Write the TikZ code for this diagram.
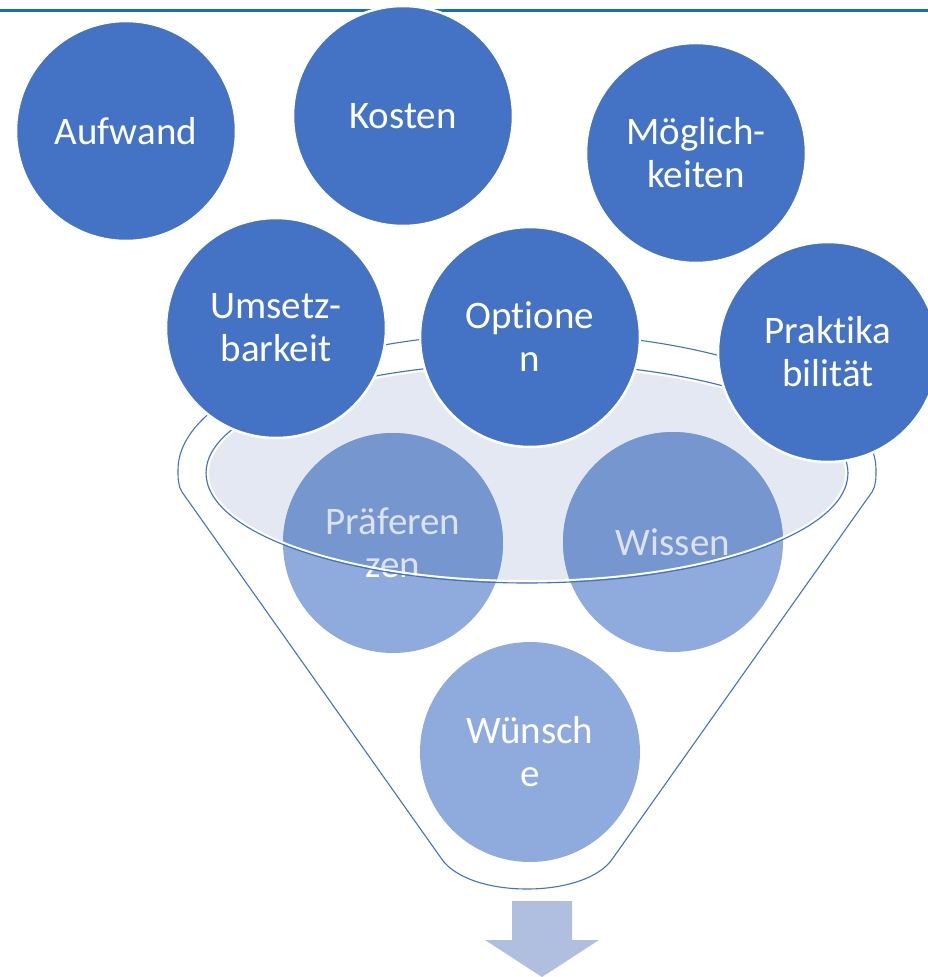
\documentclass[tikz,border=0pt]{standalone}
\usepackage{fontspec}
\setmainfont{Carlito}[Ligatures=NoCommon]
\definecolor{dk}{HTML}{4472C4}
\definecolor{lowout}{HTML}{8FAADC}
\definecolor{lowincol}{HTML}{7596CF}
\definecolor{txtin}{HTML}{DCE2F0}
\definecolor{ellfill}{HTML}{E4E8F3}
\definecolor{topline}{HTML}{1570BC}
\definecolor{arrowcol}{HTML}{B0BEE0}
\begin{document}
\begin{tikzpicture}[x=1pt,y=-1pt,
  bigc/.style={circle, minimum size=220pt, inner sep=0pt, align=center, text=white,
    font=\fontsize{39}{43}\selectfont},
  upc/.style={bigc, fill=dk, draw=white, line width=2.5pt},
  lowc/.style={bigc, fill=lowout},
  lowinc/.style={bigc, fill=lowincol, text=txtin},
  funnelline/.style={draw=dk, line width=1.1pt}]
\useasboundingbox (0,0) rectangle (928,977);

% top rule
\coordinate (tl) at (0,10.5);
\coordinate (tr) at (928,10.5);
\draw[topline, line width=3pt] (tl) -- (tr);

% top row circles
\node[upc] (aufwand) at (126,131) {Aufwand};
\node[upc] (kosten) at (403,116) {Kosten};
\node[upc] (moegl) at (696,153) {Möglich-\\keiten};

% outer funnel
\path[funnelline, fill=white] (178,470) arc[start angle=180, end angle=0, x radius=349pt, y radius=137pt]
  .. controls (876,478) and (876,486) .. (872,492)
  -- (613,858)
  .. controls (600,878) and (565,889) .. (527,889)
  .. controls (489,889) and (454,878) .. (441,858)
  -- (182,492)
  .. controls (178,486) and (178,478) .. (178,470) -- cycle;

% inner ellipse fill
\fill[ellfill] (527,473) ellipse[x radius=321pt, y radius=110pt];

% lower circles
\node[lowc] (praef) at (393,543) {Präferen\\zen};
\node[lowc] (wissen) at (673,542) {Wissen};
\node[lowc] (wuensche) at (530,752) {Wünsch\\e};

% part of lower circles inside the ellipse
\begin{scope}
  \clip (527,473) ellipse[x radius=321pt, y radius=110pt];
  \node[lowinc] (praefin) at (393,543) {Präferen\\zen};
  \node[lowinc] (wissenin) at (673,542) {Wissen};
\end{scope}

% inner ellipse outline
\draw[white, line width=2pt] (527,473) ellipse[x radius=319pt, y radius=108pt];
\draw[funnelline] (527,473) ellipse[x radius=321pt, y radius=110pt];

% upper circles
\node[upc] (umsetz) at (276,328) {Umsetz-\\barkeit};
\node[upc] (optionen) at (530,337) {Optione\\n};
\node[upc] (prakt) at (828,352) {Praktika\\bilität};

% output arrow
\fill[arrowcol] (512,901) -- (572,901) -- (572,940) -- (599,940) -- (542,977)
  -- (485,940) -- (512,940) -- cycle;
\end{tikzpicture}
\end{document}
